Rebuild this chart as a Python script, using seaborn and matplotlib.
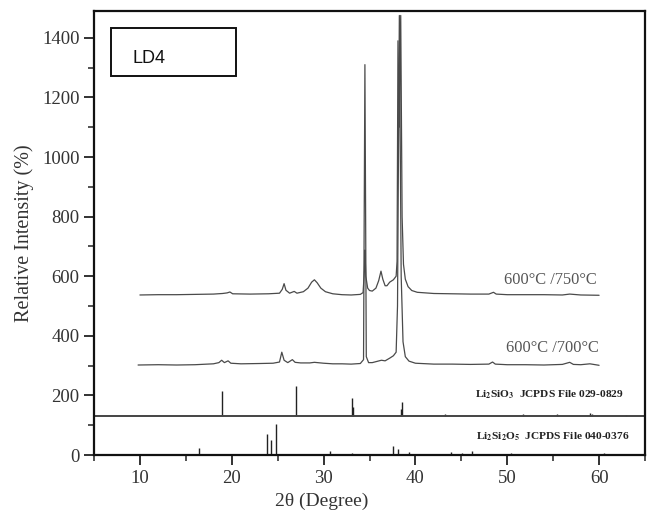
import numpy as np
import pandas as pd
import matplotlib
matplotlib.use("Agg")
import matplotlib.pyplot as plt
from matplotlib.patches import Rectangle
import seaborn as sns

# --- XRD patterns (2θ, intensity) ---
two_theta_750 = [10, 12, 14, 16, 18, 19.0, 19.5, 19.8, 20.1, 22, 24, 25.2, 25.5, 25.7, 25.9,
                 26.3, 26.8, 27.1, 27.8, 28.3, 28.7, 29.0, 29.3, 29.7, 30.2, 31, 32, 33,
                 34.0, 34.3, 34.45, 34.5, 34.6, 34.8, 35.0, 35.3, 35.7, 36.0, 36.25, 36.45,
                 36.7, 36.9, 37.2, 37.6, 37.9, 38.0, 38.1, 38.25, 38.4, 38.55, 38.7, 38.9,
                 39.2, 39.6, 40.2, 42, 44, 46, 48, 48.5, 48.8, 50, 52, 54, 56, 56.8, 58, 60]
intensity_750 = [537, 538, 538, 539, 540, 542, 544, 547, 541, 540, 541, 543, 556, 575, 553,
                 543, 549, 543, 548, 560, 580, 588, 578, 560, 548, 541, 538, 537,
                 539, 545, 620, 688, 600, 560, 552, 550, 560, 585, 617, 590,
                 568, 568, 580, 588, 600, 650, 1390, 1100, 1475, 800, 640, 590,
                 565, 552, 546, 542, 541, 540, 540, 546, 540, 538, 538, 538, 537, 540, 537, 536]

two_theta_700 = [9.8, 12, 14, 16, 18, 18.6, 18.9, 19.2, 19.6, 19.9, 21, 23, 24.5, 25.2, 25.45,
                 25.7, 26.1, 26.6, 26.9, 27.5, 28.5, 29.0, 30, 31, 32, 33, 34.0, 34.35,
                 34.5, 34.65, 34.9, 35.3, 35.8, 36.3, 36.7, 37.2, 37.6, 37.9, 38.05, 38.25,
                 38.45, 38.65, 38.9, 39.3, 40, 42, 44, 46, 48, 48.4, 48.7, 50, 52, 54, 56,
                 56.8, 57.2, 58, 59, 60]
intensity_700 = [302, 303, 302, 303, 306, 310, 318, 310, 316, 308, 306, 307, 308, 312, 345,
                 318, 310, 320, 311, 309, 309, 311, 308, 306, 306, 305, 307, 320,
                 1310, 330, 310, 310, 314, 318, 316, 325, 333, 345, 500, 1475,
                 600, 380, 330, 315, 308, 305, 305, 304, 305, 312, 305, 303, 303, 302, 304,
                 311, 304, 303, 306, 301]

# --- Reference patterns (stick positions and heights) ---
li2sio3_base = 130
li2sio3_pos = [18.9, 26.95, 33.05, 33.15, 38.4, 38.5, 43.2, 51.7, 55.4, 59.0, 59.2, 62.9]
li2sio3_height = [84, 100, 60, 30, 23, 47, 7, 7, 6, 10, 6, 5]

li2si2o5_pos = [16.4, 23.8, 24.3, 24.85, 30.7, 33.1, 37.55, 38.15, 39.3, 43.9, 45.1, 46.2,
                50.4, 60.5, 62.9]
li2si2o5_height = [22, 70, 50, 105, 12, 8, 30, 20, 10, 10, 8, 12, 6, 8, 5]

series_labels = ["600°C /750°C", "600°C /700°C"]

sns.set_style("ticks")
plt.rcParams["font.family"] = ["Liberation Serif", "DejaVu Serif"]
plt.rcParams["mathtext.fontset"] = "stix"

df = pd.concat([
    pd.DataFrame({"two_theta": two_theta_750, "intensity": intensity_750, "sample": series_labels[0]}),
    pd.DataFrame({"two_theta": two_theta_700, "intensity": intensity_700, "sample": series_labels[1]}),
])

fig, ax = plt.subplots(figsize=(6.55, 5.16), dpi=100)
fig.subplots_adjust(left=94 / 655, right=645 / 655, top=1 - 11 / 516, bottom=1 - 455 / 516)

sns.lineplot(data=df, x="two_theta", y="intensity", hue="sample", units="sample",
             estimator=None, sort=False, palette=["#4a4a4a", "#4a4a4a"],
             linewidth=0.9, legend=False, ax=ax)

# reference sticks
ax.vlines(li2sio3_pos, li2sio3_base, np.array(li2sio3_height) + li2sio3_base,
          colors="#222222", linewidth=1.0)
ax.vlines(li2si2o5_pos, 0, li2si2o5_height, colors="#222222", linewidth=1.0)
ax.axhline(li2sio3_base, color="#444444", linewidth=1.4)

ax.set_xlim(5, 65)
ax.set_ylim(0, 1490)
ax.set_xticks([10, 20, 30, 40, 50, 60])
ax.set_xticks(np.arange(5, 66, 5), minor=True)
ax.set_yticks(np.arange(0, 1401, 200))
ax.set_yticks(np.arange(0, 1490, 100), minor=True)
ax.tick_params(which="major", direction="out", length=7, width=1.3, labelsize=13.5,
               colors="#222222", labelcolor="#333333")
ax.tick_params(which="minor", direction="out", length=4, width=1.1, colors="#222222")
for s in ax.spines.values():
    s.set_linewidth(1.6)
    s.set_color("#111111")

ax.set_xlabel("2θ (Degree)", fontsize=14, color="#333333", labelpad=4)
ax.xaxis.set_label_coords((322 - 94) / 551, -0.085)
ax.set_ylabel("Relative Intensity (%)", fontsize=14.5, color="#333333", labelpad=6)

ax.text(59.8, 587, series_labels[0], ha="right", va="center", fontsize=11.8, color="#555555")
ax.text(60.0, 359, series_labels[1], ha="right", va="center", fontsize=11.8, color="#555555")

ax.text(62.7, 203, r"Li$_\mathbf{2}$SiO$_\mathbf{3}$  JCPDS File 029-0829", ha="right",
        va="center", fontsize=8.2, fontweight="bold", color="#222222")
ax.text(63.3, 62, r"Li$_\mathbf{2}$Si$_\mathbf{2}$O$_\mathbf{5}$  JCPDS File 040-0376", ha="right",
        va="center", fontsize=8.2, fontweight="bold", color="#222222")

ax.add_patch(Rectangle((0.031, 0.854), 0.227, 0.108, transform=ax.transAxes,
                       fill=False, edgecolor="#111111", linewidth=1.4))
ax.text(0.069, 0.892, "LD4", transform=ax.transAxes, ha="left", va="center",
        fontsize=13, family=["Liberation Sans", "DejaVu Sans"], color="#111111")

fig.savefig("out.png", dpi=100)
